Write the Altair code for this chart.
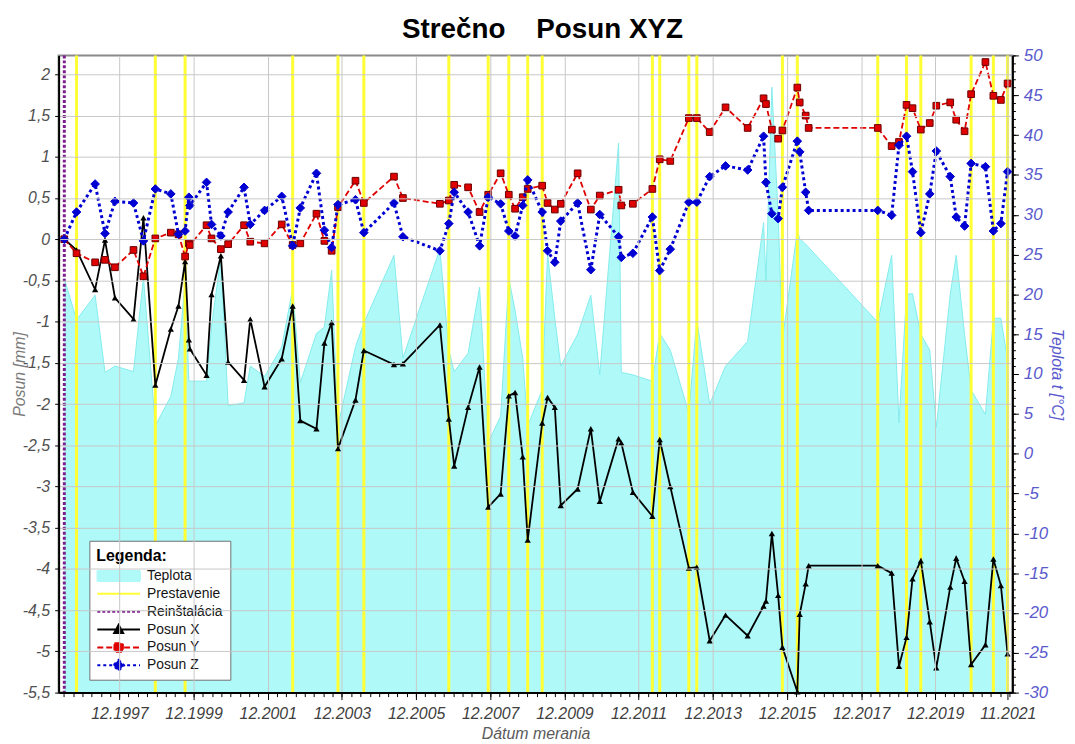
import altair as alt
import numpy as np
import pandas as pd

FONT = "Liberation Sans"

# ---------------- data ----------------
# measurement dates as decimal years
meas_dates = [1996.429, 1996.758, 1997.259, 1997.526, 1997.794, 1998.295, 1998.563, 1998.884,
              1999.302, 1999.508, 1999.687, 1999.789, 1999.816, 2000.265, 2000.399, 2000.651,
              2000.846, 2001.275, 2001.443, 2001.829, 2002.292, 2002.587, 2002.793, 2003.229,
              2003.443, 2003.639, 2003.810, 2004.281, 2004.506, 2005.318, 2005.559, 2006.557,
              2006.798, 2006.943, 2007.318, 2007.628, 2007.861, 2008.196, 2008.415, 2008.584,
              2008.790, 2008.924, 2009.315, 2009.460, 2009.655, 2009.816, 2010.271, 2010.627,
              2010.868, 2011.377, 2011.449, 2011.762, 2012.287, 2012.485, 2012.769, 2013.269,
              2013.484, 2013.832, 2014.260, 2014.857, 2015.286, 2015.350, 2015.510, 2015.679,
              2015.794, 2016.196, 2016.260, 2016.421, 2016.501, 2018.364, 2018.739, 2018.937,
              2019.141, 2019.302, 2019.526, 2019.767, 2019.944, 2020.319, 2020.480, 2020.705,
              2020.881, 2021.267, 2021.481, 2021.684, 2021.864]

posun_x = [0.00, -0.13, -0.61, -0.01, -0.71, -0.97, 0.26, -1.77, -1.09, -0.81, -0.27, -1.22, -1.33,
           -1.65, -0.67, -0.20, -1.49, -1.71, -0.97, -1.79, -1.45, -0.81, -2.20, -2.30, -1.26,
           -1.01, -2.54, -1.95, -1.35, -1.52, -1.51, -1.04, -2.18, -2.75, -2.04, -1.55, -3.25,
           -3.09, -1.90, -1.86, -2.64, -3.65, -2.23, -1.92, -2.04, -3.23, -3.03, -2.30, -3.18,
           -2.42, -2.47, -3.07, -3.36, -2.43, -3.00, -3.99, -3.98, -4.87, -4.56, -4.81, -4.45,
           -4.39, -3.57, -4.32, -4.95, -5.49, -4.55, -4.18, -3.96, -3.96, -4.05, -5.18, -4.83,
           -4.12, -3.90, -4.64, -5.20, -4.22, -3.87, -4.15, -5.16, -4.92, -3.88, -4.20, -5.03]

posun_y = [0.00, -0.17, -0.28, -0.25, -0.34, -0.13, -0.45, 0.01, 0.08, 0.06, -0.21, -0.05, -0.07,
           0.17, 0.01, -0.12, -0.06, 0.17, -0.03, -0.05, 0.18, -0.07, -0.05, 0.31, -0.02,
           -0.14, 0.39, 0.71, 0.44, 0.76, 0.50, 0.43, 0.47, 0.66, 0.63, 0.33, 0.54,
           0.80, 0.54, 0.37, 0.51, 0.61, 0.65, 0.44, 0.36, 0.43, 0.80, 0.36, 0.53,
           0.60, 0.41, 0.43, 0.61, 0.97, 0.95, 1.47, 1.47, 1.30, 1.60, 1.35, 1.71,
           1.64, 1.33, 1.22, 1.32, 1.84, 1.66, 1.50, 1.35, 1.35, 1.13, 1.18, 1.63,
           1.59, 1.33, 1.41, 1.62, 1.66, 1.45, 1.31, 1.76, 2.15, 1.74, 1.69, 1.89]

posun_z = [0.00, 0.33, 0.67, 0.07, 0.46, 0.44, -0.02, 0.61, 0.55, 0.06, 0.10, 0.51, 0.41,
           0.69, 0.18, 0.04, 0.33, 0.63, 0.18, 0.35, 0.52, -0.08, 0.38, 0.80, 0.11,
           -0.10, 0.42, 0.48, 0.08, 0.44, 0.03, -0.14, 0.19, 0.57, 0.33, -0.08, 0.51,
           0.43, 0.10, 0.04, 0.41, 0.72, 0.33, -0.14, -0.28, 0.22, 0.44, -0.37, 0.30,
           0.03, -0.22, -0.17, 0.27, -0.38, -0.12, 0.45, 0.45, 0.76, 0.89, 0.84, 1.25,
           0.69, 0.31, 0.25, 0.63, 1.19, 1.06, 0.57, 0.35, 0.35, 0.29, 1.14, 1.25,
           0.82, 0.08, 0.55, 1.07, 0.76, 0.27, 0.16, 0.92, 0.88, 0.10, 0.19, 0.82]

teplota = [22.0, 16.8, 19.9, 10.2, 11.0, 10.3, 22.1, 3.5, 7.2, 12.0, 21.7, 9.1, 9.1,
           9.1, 16.0, 24.7, 6.0, 6.4, 11.0, 9.7, 13.4, 20.7, 8.9, 15.1, 15.9,
           23.0, 3.5, 13.4, 16.4, 24.9, 12.0, 25.7, 13.0, 10.3, 12.6, 20.9, 1.4,
           4.7, 22.0, 18.0, 12.0, 3.5, 8.0, 25.1, 17.0, 11.0, 15.0, 19.9, 9.9,
           39.0, 10.2, 9.9, 9.1, 15.1, 13.0, 5.1, 16.8, 6.2, 11.0, 14.1, 29.0,
           21.7, 46.0, 30.0, 14.3, 28.0, 27.0, 26.3, 25.9, 16.5, 24.9, 3.9, 20.0,
           20.1, 15.0, 13.0, 3.3, 20.0, 24.9, 15.0, 8.0, 4.9, 17.0, 17.0, 11.8]

prestavenie_dates = [1996.758, 1998.884, 1999.687, 2002.587, 2003.810, 2004.506, 2006.798,
                     2007.861, 2008.415, 2008.924, 2009.315, 2012.287, 2012.485, 2013.269,
                     2013.484, 2015.794, 2016.196, 2018.364, 2019.141, 2019.526, 2020.881,
                     2021.481, 2021.864]
reinstalacia_dates = [1996.429]

x_domain = [1996.276, 2021.995]
x_tick_dates = ["1997-12-01", "1999-12-01", "2001-12-01", "2003-12-01", "2005-12-01",
                "2007-12-01", "2009-12-01", "2011-12-01", "2013-12-01", "2015-12-01",
                "2017-12-01", "2019-12-01", "2021-11-15"]
x_minor_start, x_minor_end = "1996-06-01", "2021-12-01"

mm_domain = [-5.5, 2.23]
mm_ticks = [-5.5, -5.0, -4.5, -4.0, -3.5, -3.0, -2.5, -2.0, -1.5, -1.0, -0.5,
            0.0, 0.5, 1.0, 1.5, 2.0]
temp_domain = [-30, 50]
temp_ticks = list(range(-30, 51, 5))
temp_minor_ticks = list(range(-30, 51, 1))

legend_labels = ["Teplota", "Prestavenie", "Reinštalácia", "Posun X", "Posun Y", "Posun Z"]

# ---------------- styles ----------------
COL_AREA = "#b0f9f9"
COL_AREA_EDGE = "#84ecec"
COL_YELLOW = "#ffff33"
COL_PURPLE = "#7d1c8c"
COL_X = "#000000"
COL_Y = "#e00000"
COL_Y_EDGE = "#6a0000"
COL_Z = "#0000d2"
COL_GRID = "#c8c8c8"
COL_RIGHT = "#5a5acd"

legend_fill = [COL_AREA, COL_YELLOW, COL_PURPLE, COL_X, COL_Y, COL_Z]
legend_stroke = [COL_AREA, COL_YELLOW, COL_PURPLE, COL_X, COL_Y, COL_Z]
legend_dashes = [[1, 0], [1, 0], [3, 2], [1, 0], [6, 3], [3, 3]]
legend_paths = [
    "M-4.3,-1H4.3V1H-4.3Z",
    "M-4.3,0H4.3",
    "M-4.3,0H4.3",
    "M-4.3,0H4.3M0,-0.95L0.9,0.7L-0.9,0.7Z",
    "M-4.3,0H4.3M-0.85,-0.85H0.85V0.85H-0.85Z",
    "M-4.3,0H4.3M0,-1.1L1.1,0L0,1.1L-1.1,0Z",
]


def to_ms(y):
    yr = int(np.floor(y))
    a = pd.Timestamp(year=yr, month=1, day=1)
    b = pd.Timestamp(year=yr + 1, month=1, day=1)
    return int((a + (b - a) * (y - yr)).value // 1_000_000)


def str_ms(s):
    return int(pd.Timestamp(s).value // 1_000_000)


df = pd.DataFrame({
    "t": [to_ms(d) for d in meas_dates],
    "X": posun_x, "Y": posun_y, "Z": posun_z, "T": teplota,
})
prest_df = pd.DataFrame({"t": [to_ms(d) for d in prestavenie_dates]})
rein_df = pd.DataFrame({"t": [to_ms(d) for d in reinstalacia_dates]})
leg_df = pd.DataFrame({"series": legend_labels})

major_ms = [str_ms(s) for s in x_tick_dates]
minor_ms = [int(t.value // 1_000_000) for t in pd.date_range(x_minor_start, x_minor_end, freq="3MS")]

x_scale = alt.Scale(type="utc", domain=[to_ms(v) for v in x_domain], nice=False)
mm_scale = alt.Scale(domain=mm_domain, nice=False, zero=False)
t_scale = alt.Scale(domain=temp_domain, nice=False, zero=False)

# ---------------- axes ----------------
x_major_axis = alt.Axis(
    orient="bottom", values=major_ms, format="%m.%Y", grid=True, gridColor=COL_GRID, gridWidth=1,
    domainColor="black", domainWidth=2, tickColor="black", tickSize=7, tickWidth=1, labelPadding=6,
    labelFont=FONT, labelFontSize=16, labelFontStyle="italic", labelColor="#404040",
    labelFlush=False, labelOverlap=False,
    title="Dátum merania", titleFont=FONT, titleFontSize=16, titleFontStyle="italic",
    titleFontWeight="normal", titleColor="#5a5a5a", titleY=41, titleBaseline="middle", zindex=1,
)
x_minor_axis = alt.Axis(
    orient="bottom", values=minor_ms, labels=False, domain=False, grid=False,
    tickColor="black", tickSize=4, tickWidth=1, title=None, zindex=1,
)
left_axis = alt.Axis(
    orient="left", values=mm_ticks, labelExpr="replace(toString(datum.value), '.', ',')",
    grid=True, gridColor=COL_GRID, gridWidth=1, domainColor="black", domainWidth=2,
    tickColor="black", tickSize=4, labelPadding=5, labelFont=FONT, labelFontSize=16,
    labelFontStyle="italic", labelColor="#505050", labelFlush=False, labelOverlap=False,
    title="Posun [mm]", titleFont=FONT, titleFontSize=16, titleFontStyle="italic",
    titleFontWeight="normal", titleColor="#7a7a7a", titleX=-39, titleY=321, titleAngle=270,
    titleAlign="center", titleBaseline="middle", zindex=1,
)
t_major_axis = alt.Axis(
    orient="right", values=temp_ticks, labelExpr="toString(datum.value)", grid=False,
    domainColor="black", domainWidth=2, tickColor="black", tickSize=6, labelPadding=5,
    labelFont=FONT, labelFontSize=17, labelFontStyle="italic", labelColor=COL_RIGHT,
    labelFlush=False, labelOverlap=False,
    title="Teplota t [°C]", titleFont=FONT, titleFontSize=16, titleFontStyle="italic",
    titleFontWeight="normal", titleColor=COL_RIGHT, titleX=44, titleY=321, titleAngle=90,
    titleAlign="center", titleBaseline="middle", zindex=1,
)
t_minor_axis = alt.Axis(
    orient="right", values=temp_minor_ticks, labels=False, domain=False, grid=False,
    tickColor="black", tickSize=3, title=None, zindex=1,
)

x_none = alt.X("t:T", scale=x_scale, axis=None)

# ---------------- temperature layer ----------------
area = alt.Chart(df).mark_area(
    color=COL_AREA, opacity=1, line={"color": COL_AREA_EDGE, "strokeWidth": 1}
).encode(
    x=alt.X("t:T", scale=x_scale, axis=x_major_axis),
    y=alt.Y("T:Q", scale=t_scale, axis=t_major_axis),
    y2=alt.datum(temp_domain[0]),
)
t_minor = alt.Chart(df).mark_line(opacity=0).encode(
    x=alt.X("t:T", scale=x_scale, axis=x_minor_axis),
    y=alt.Y("T:Q", scale=t_scale, axis=t_minor_axis),
)
T = alt.layer(area, t_minor).resolve_axis(x="independent", y="independent")

# ---------------- vertical event lines ----------------
prest = alt.Chart(prest_df).mark_rule(color=COL_YELLOW, strokeWidth=3).encode(x=x_none)
rein = alt.Chart(rein_df).mark_rule(color=COL_PURPLE, strokeWidth=3, strokeDash=[3, 2]).encode(x=x_none)

# ---------------- displacement series ----------------
def mm_y(field, axis=None):
    return alt.Y(f"{field}:Q", scale=mm_scale, axis=axis)


base = alt.Chart(df)
lx = base.mark_line(color=COL_X, strokeWidth=1.8).encode(x=x_none, y=mm_y("X", left_axis))
px = base.mark_point(filled=True, shape="triangle-up", size=40, color=COL_X, opacity=1).encode(x=x_none, y=mm_y("X"))
ly = base.mark_line(color=COL_Y, strokeWidth=1.8, strokeDash=[6, 3]).encode(x=x_none, y=mm_y("Y"))
py = base.mark_point(filled=True, shape="square", size=45, fill=COL_Y, stroke=COL_Y_EDGE,
                     strokeWidth=1, opacity=1).encode(x=x_none, y=mm_y("Y"))
lz = base.mark_line(color=COL_Z, strokeWidth=3, strokeDash=[3, 3]).encode(x=x_none, y=mm_y("Z"))
pz = base.mark_point(filled=True, shape="diamond", size=75, fill=COL_Z, stroke=COL_Z,
                     strokeWidth=1, opacity=1).encode(x=x_none, y=mm_y("Z"))
M = alt.layer(lx, px, ly, py, lz, pz).resolve_axis(x="independent", y="independent")

# ---------------- legend ----------------
leg = alt.Legend(
    title="Legenda:", orient="none", legendX=31, legendY=489, direction="vertical",
    fillColor="white", strokeColor="#707070", padding=7, rowPadding=3, clipHeight=15,
    titleFont=FONT, titleFontSize=16, titleFontWeight="bold", titleColor="black", titlePadding=5,
    labelFont=FONT, labelFontSize=14, labelColor="#151515", labelOffset=21.5, labelLimit=200,
    symbolOffset=15.5, symbolSize=100, symbolStrokeWidth=2, symbolFillColor="white",
    symbolStrokeColor="black", symbolOpacity=1,
)
G = alt.Chart(leg_df).transform_filter("false").mark_point(filled=True, opacity=1, strokeWidth=2).encode(
    fill=alt.Fill("series:N", scale=alt.Scale(domain=legend_labels, range=legend_fill), legend=leg),
    stroke=alt.Stroke("series:N", scale=alt.Scale(domain=legend_labels, range=legend_stroke), legend=leg),
    shape=alt.Shape("series:N", scale=alt.Scale(domain=legend_labels, range=legend_paths), legend=leg),
    strokeDash=alt.StrokeDash("series:N", scale=alt.Scale(domain=legend_labels, range=legend_dashes), legend=leg),
)

chart = (
    alt.layer(T, prest, rein, M, G)
    .resolve_scale(y="independent")
    .resolve_axis(x="independent", y="independent")
    .properties(
        width=961, height=642,
        title=alt.Title("Strečno\u00a0\u00a0\u00a0\u00a0Posun XYZ", font=FONT, fontSize=28,
                        fontWeight="bold", color="black", anchor="middle", frame="group",
                        offset=3, dx=7),
        autosize=alt.AutoSizeParams(type="none"),
        padding={"left": 51, "top": 45, "right": 55, "bottom": 50},
        background="white",
    )
    .configure(font=FONT)
    .configure_view(stroke="#8a8a8a", strokeWidth=2)
)

chart.save("out.html", embed_options={"renderer": "svg", "actions": False})
